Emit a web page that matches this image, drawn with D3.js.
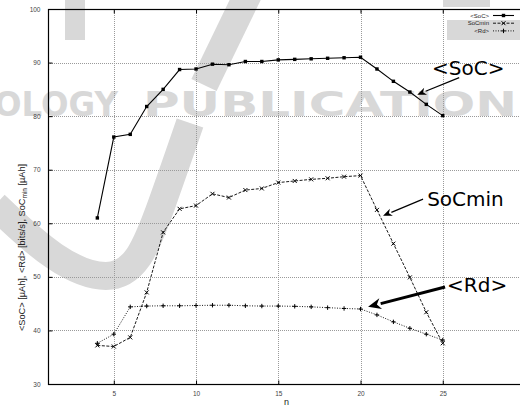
<!DOCTYPE html>
<html>
<head>
<meta charset="utf-8">
<script src="https://cdn.jsdelivr.net/npm/d3@7"></script>
<style>
  body { margin: 0; background: #fff; }
  svg { display: block; }
</style>
</head>
<body>
<div id="chart"></div>
<script>
// values
var nValues = [4, 5, 6, 7, 8, 9, 10, 11, 12, 13, 14, 15, 16, 17, 18, 19, 20, 21, 22, 23, 24, 25];
var socMean = [61.0, 76.1, 76.6, 81.8, 85.0, 88.7, 88.8, 89.7, 89.6, 90.2, 90.2, 90.5, 90.6, 90.7, 90.8, 90.9, 91.0, 88.8, 86.5, 84.5, 82.2, 80.1];
var socMin = [37.2, 37.0, 38.7, 47.1, 58.3, 62.7, 63.3, 65.5, 64.8, 66.2, 66.5, 67.6, 67.9, 68.2, 68.4, 68.7, 68.9, 62.5, 56.2, 49.9, 43.4, 37.6];
var rdMean = [37.6, 39.3, 44.4, 44.55, 44.6, 44.6, 44.65, 44.7, 44.7, 44.6, 44.55, 44.55, 44.5, 44.4, 44.25, 44.1, 44.0, 42.9, 41.6, 40.4, 39.3, 38.2];

var xTicks = [5, 10, 15, 20, 25];
var yTicks = [30, 40, 50, 60, 70, 80, 90, 100];
var legendLabels = ['<SoC>', 'SoCmin', '<Rd>'];

var width = 520, height = 407;

var x = d3.scaleLinear().domain([1, 30]).range([48, 525]);
var y = d3.scaleLinear().domain([30, 100]).range([384, 9]);

var svg = d3.select('#chart').append('svg')
  .attr('width', width)
  .attr('height', height);

// faint publisher watermark behind the plot
var wmColor = '#d8d8d8';
var mark = svg.append('g').attr('fill', wmColor);
mark.append('text')
  .attr('x', -6).attr('y', 116)
  .attr('font-family', 'DejaVu Sans').attr('font-weight', 'bold')
  .attr('font-size', 34)
  .attr('textLength', 124).attr('lengthAdjust', 'spacingAndGlyphs')
  .text('OLOGY');
mark.append('text')
  .attr('x', 143).attr('y', 116)
  .attr('font-family', 'DejaVu Sans').attr('font-weight', 'bold')
  .attr('font-size', 34)
  .attr('textLength', 410).attr('lengthAdjust', 'spacingAndGlyphs')
  .text('PUBLICATIONS');
mark.append('rect').attr('x', 447).attr('y', 20).attr('width', 80).attr('height', 20);
mark.append('rect').attr('x', 443).attr('y', 0).attr('width', 47).attr('height', 7);
mark.append('rect').attr('x', 65).attr('y', 0).attr('width', 20).attr('height', 40);

var swoosh = [[-5, 205], [55, 262], [110, 283], [140, 262], [160, 210], [190, 123]];
svg.append('path')
  .attr('d', d3.line().curve(d3.curveBasis)(swoosh))
  .attr('fill', 'none').attr('stroke', wmColor).attr('stroke-width', 28);
svg.append('path')
  .attr('d', d3.line()([[204, 85], [250, -10]]))
  .attr('fill', 'none').attr('stroke', wmColor).attr('stroke-width', 28);

// grid
var grid = svg.append('g')
  .attr('stroke', '#9a9a9a')
  .attr('stroke-width', 1)
  .attr('stroke-dasharray', '1,1');

grid.selectAll('.hg')
  .data(yTicks.filter(function(d) { return d > 30 && d < 100; }))
  .enter().append('line')
  .attr('x1', x(1)).attr('x2', x(30))
  .attr('y1', function(d) { return Math.round(y(d)) + 0.5; })
  .attr('y2', function(d) { return Math.round(y(d)) + 0.5; });

grid.selectAll('.vg')
  .data(xTicks)
  .enter().append('line')
  .attr('y1', y(30)).attr('y2', y(100))
  .attr('x1', function(d) { return Math.round(x(d)) + 0.5; })
  .attr('x2', function(d) { return Math.round(x(d)) + 0.5; });

// frame
svg.append('rect')
  .attr('x', x(1) + 0.5).attr('y', y(100) + 0.5)
  .attr('width', x(30) - x(1)).attr('height', y(30) - y(100))
  .attr('fill', 'none').attr('stroke', '#000').attr('stroke-width', 1.2);

// axes with inward ticks
var yAxis = svg.append('g')
  .attr('transform', 'translate(' + (x(1) + 0.5) + ',0)')
  .call(d3.axisLeft(y).tickValues(yTicks).tickSize(-4).tickPadding(8));
var xAxis = svg.append('g')
  .attr('transform', 'translate(0,' + (y(30) + 0.5) + ')')
  .call(d3.axisBottom(x).tickValues(xTicks).tickSize(-4).tickPadding(7));
var xTop = svg.append('g')
  .attr('transform', 'translate(0,' + (y(100) + 0.5) + ')')
  .call(d3.axisTop(x).tickValues(xTicks).tickSize(-4).tickFormat(''));

[yAxis, xAxis, xTop].forEach(function(a) {
  a.select('.domain').remove();
  a.selectAll('.tick line').attr('stroke', '#000');
  a.selectAll('.tick text')
    .attr('font-family', 'Liberation Sans, Arial, sans-serif')
    .attr('font-size', 6.5)
    .attr('fill', '#444');
});

// axis titles
svg.append('text')
  .attr('x', (x(1) + x(30)) / 2).attr('y', 405)
  .attr('text-anchor', 'middle')
  .attr('font-family', 'Liberation Sans, Arial, sans-serif')
  .attr('font-size', 9).attr('fill', '#222')
  .text('n');

var yTitle = svg.append('text')
  .attr('transform', 'translate(25,331) rotate(-90)')
  .attr('font-family', 'Liberation Sans, Arial, sans-serif')
  .attr('font-size', 9.2).attr('fill', '#222');
yTitle.append('tspan').text('<SoC> [\u00b5Ah], <Rd> [bits/s], SoC');
yTitle.append('tspan').attr('font-size', 6.5).attr('dy', 2).text('min');
yTitle.append('tspan').attr('dy', -2).text(' [\u00b5Ah]');

// series
var series = [
  { name: legendLabels[0], values: socMean, dash: null, width: 1.1, symbol: 'square' },
  { name: legendLabels[1], values: socMin, dash: '3,1.5', width: 0.9, symbol: 'cross' },
  { name: legendLabels[2], values: rdMean, dash: '1,1.5', width: 0.9, symbol: 'plus' }
];

var line = d3.line()
  .x(function(d) { return x(d[0]); })
  .y(function(d) { return y(d[1]); });

function drawSymbol(g, kind, cx, cy) {
  if (kind === 'square') {
    g.append('rect').attr('x', cx - 1.7).attr('y', cy - 1.7)
      .attr('width', 3.4).attr('height', 3.4).attr('fill', '#000');
  } else if (kind === 'cross') {
    g.append('path')
      .attr('d', 'M' + (cx - 2) + ',' + (cy - 2) + 'L' + (cx + 2) + ',' + (cy + 2) +
                 'M' + (cx - 2) + ',' + (cy + 2) + 'L' + (cx + 2) + ',' + (cy - 2))
      .attr('stroke', '#000').attr('stroke-width', 1);
  } else {
    g.append('path')
      .attr('d', 'M' + (cx - 2.2) + ',' + cy + 'L' + (cx + 2.2) + ',' + cy +
                 'M' + cx + ',' + (cy - 2.2) + 'L' + cx + ',' + (cy + 2.2))
      .attr('stroke', '#000').attr('stroke-width', 1);
  }
}

series.forEach(function(s) {
  var pts = nValues.map(function(n, i) { return [n, s.values[i]]; });
  svg.append('path')
    .attr('d', line(pts))
    .attr('fill', 'none')
    .attr('stroke', '#000')
    .attr('stroke-width', s.width)
    .attr('stroke-dasharray', s.dash);
  var g = svg.append('g');
  pts.forEach(function(p) { drawSymbol(g, s.symbol, x(p[0]), y(p[1])); });
});

// legend
var legend = svg.append('g');
series.forEach(function(s, i) {
  var ly = 15.5 + i * 7.7;
  legend.append('text')
    .attr('x', 489).attr('y', ly + 2)
    .attr('text-anchor', 'end')
    .attr('font-family', 'Liberation Sans, Arial, sans-serif')
    .attr('font-size', 6).attr('fill', '#222')
    .text(s.name);
  legend.append('line')
    .attr('x1', 493).attr('x2', 514).attr('y1', ly).attr('y2', ly)
    .attr('stroke', '#000').attr('stroke-width', s.width)
    .attr('stroke-dasharray', s.dash);
  drawSymbol(legend, s.symbol, 503.5, ly);
});

// annotations, placed in data units
var annotations = [
  { text: '<SoC>', tx: 24.35, ty: 87.6, from: [26.0, 87.2], to: [23.45, 84.0], w: 1.2, head: 9 },
  { text: 'SoCmin', tx: 24.05, ty: 63.2, from: [23.8, 64.5], to: [21.37, 61.4], w: 1.2, head: 9 },
  { text: '<Rd>', tx: 25.26, ty: 47.2, from: [25.14, 48.1], to: [20.46, 44.4], w: 3, head: 13 }
];

function arrow(x1, y1, x2, y2, w, head) {
  var ang = Math.atan2(y2 - y1, x2 - x1);
  var bx = x2 - head * Math.cos(ang), by = y2 - head * Math.sin(ang);
  var hw = head * 0.42;
  svg.append('line')
    .attr('x1', x1).attr('y1', y1).attr('x2', bx).attr('y2', by)
    .attr('stroke', '#000').attr('stroke-width', w);
  svg.append('path')
    .attr('d', 'M' + x2 + ',' + y2 +
      'L' + (bx + hw * Math.sin(ang)) + ',' + (by - hw * Math.cos(ang)) +
      'L' + (x2 - head * 0.7 * Math.cos(ang)) + ',' + (y2 - head * 0.7 * Math.sin(ang)) +
      'L' + (bx - hw * Math.sin(ang)) + ',' + (by + hw * Math.cos(ang)) + 'Z')
    .attr('fill', '#000');
}

annotations.forEach(function(a) {
  svg.append('text')
    .attr('x', x(a.tx)).attr('y', y(a.ty))
    .attr('font-family', 'DejaVu Sans, sans-serif')
    .attr('font-size', 20).attr('fill', '#000')
    .text(a.text);
  arrow(x(a.from[0]), y(a.from[1]), x(a.to[0]), y(a.to[1]), a.w, a.head);
});
</script>
</body>
</html>
